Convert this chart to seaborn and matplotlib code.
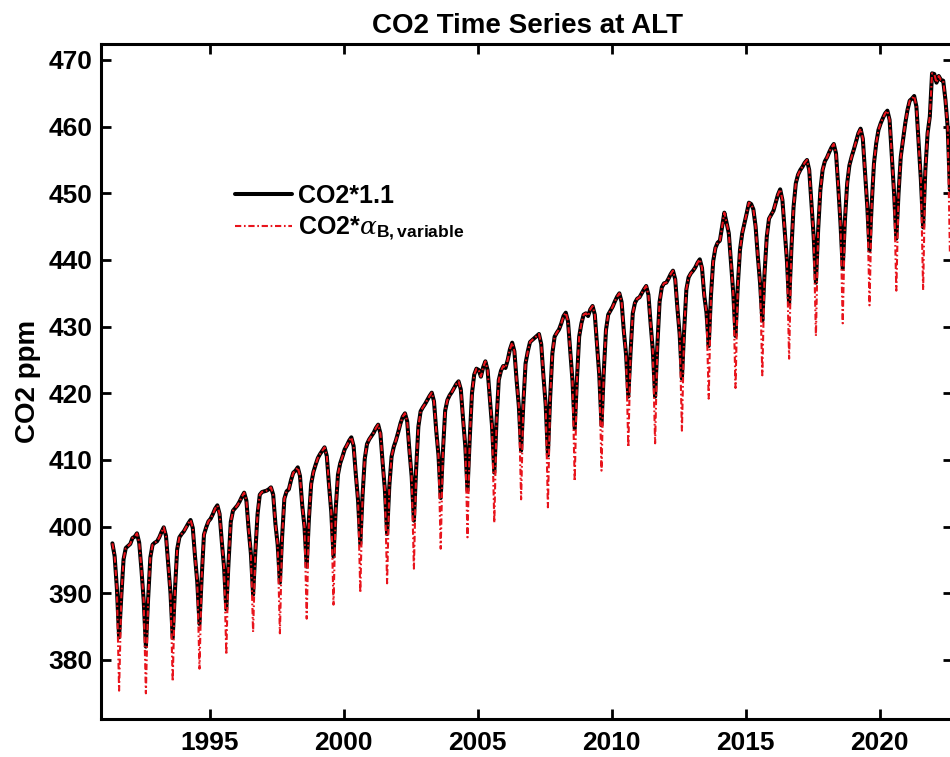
import numpy as np
import pandas as pd
import matplotlib
matplotlib.use("Agg")
import matplotlib.pyplot as plt
import seaborn as sns

# Monthly record, first value is May 1991
start_year = 1991
start_month = 5

# CO2*1.1 (ppm), monthly
co2_x11 = [
    397.5, 395.6, 390.8, 383.4, 389.6, 395.1, 396.8, 397.1,                      # 1991 May-Dec
    397.4, 398.3, 398.5, 399.0, 397.6, 393.6, 389.0, 382.0, 389.2, 395.4, 397.3, 397.6,  # 1992
    397.8, 398.4, 399.2, 399.9, 398.6, 394.4, 390.1, 383.3, 390.4, 396.6, 398.4, 398.9,  # 1993
    399.3, 399.9, 400.5, 401.0, 399.8, 395.5, 391.7, 385.4, 392.5, 398.8, 399.9, 400.8,  # 1994
    401.2, 401.9, 402.7, 403.2, 401.9, 397.7, 393.9, 387.6, 394.6, 400.7, 402.4, 402.8,  # 1995
    403.2, 403.8, 404.5, 405.1, 403.9, 399.6, 396.0, 389.8, 396.2, 401.9, 404.8, 405.2,  # 1996
    405.3, 405.4, 405.6, 405.9, 404.8, 400.4, 397.3, 391.6, 398.5, 404.2, 405.3, 405.6,  # 1997
    407.0, 408.1, 408.4, 408.9, 407.6, 403.2, 400.0, 394.0, 401.2, 406.4, 408.2, 409.3,  # 1998
    410.3, 410.9, 411.4, 411.9, 410.6, 406.2, 402.2, 395.5, 402.7, 407.8, 409.5, 410.5,  # 1999
    411.6, 412.2, 412.9, 413.4, 412.1, 407.8, 403.9, 397.4, 404.6, 410.2, 412.4, 413.1,  # 2000
    413.6, 414.1, 414.8, 415.3, 414.0, 409.6, 405.6, 398.9, 406.1, 410.5, 412.0, 413.0,  # 2001
    414.2, 415.5, 416.5, 417.0, 415.8, 411.4, 407.5, 400.9, 408.6, 415.0, 417.3, 417.9,  # 2002
    418.4, 419.0, 419.6, 420.1, 418.8, 414.4, 410.7, 404.3, 411.3, 417.4, 419.0, 419.7,  # 2003
    420.2, 420.8, 421.4, 421.8, 420.6, 416.2, 412.1, 405.4, 413.2, 420.0, 422.8, 423.7,  # 2004
    423.5, 422.5, 423.9, 424.8, 423.5, 419.2, 415.0, 408.1, 415.9, 422.0, 423.4, 424.1,  # 2005
    423.8, 425.0, 426.6, 427.6, 426.3, 421.9, 418.0, 411.4, 418.4, 424.5, 426.3, 427.7,  # 2006
    428.0, 428.3, 428.6, 428.9, 427.4, 422.6, 418.3, 410.7, 419.3, 426.0, 428.5, 429.1,  # 2007
    429.6, 430.5, 431.6, 432.1, 430.8, 426.3, 421.9, 414.7, 422.1, 428.5, 430.5, 431.8,  # 2008
    432.0, 431.6, 432.6, 433.1, 431.8, 427.3, 422.7, 415.2, 423.1, 429.5, 431.8, 432.4,  # 2009
    433.0, 433.8, 434.5, 435.0, 433.7, 429.3, 425.8, 419.5, 426.1, 432.0, 433.6, 434.2,  # 2010
    434.4, 435.0, 435.6, 436.1, 434.8, 430.4, 426.3, 419.5, 427.1, 433.7, 435.9, 436.5,  # 2011
    436.6, 437.2, 437.9, 438.4, 437.1, 432.7, 428.8, 422.2, 429.4, 435.6, 437.4, 438.0,  # 2012
    438.4, 438.9, 439.6, 440.1, 438.8, 434.7, 432.1, 427.1, 434.6, 439.8, 441.8, 442.6,  # 2013
    442.9, 445.0, 447.1, 445.6, 444.0, 439.5, 435.0, 428.6, 436.0, 441.5, 444.0, 445.5,  # 2014
    447.0, 448.6, 448.4, 447.6, 445.0, 440.5, 436.5, 430.9, 438.0, 443.5, 446.2, 446.8,  # 2015
    447.4, 448.6, 449.8, 450.6, 449.0, 444.5, 440.0, 433.4, 441.5, 448.0, 451.5, 452.8,  # 2016
    453.5, 454.0, 454.6, 455.0, 453.5, 448.5, 443.5, 436.6, 444.5, 450.5, 453.5, 454.8,  # 2017
    455.4, 456.2, 456.9, 457.4, 456.0, 451.0, 445.5, 438.7, 446.0, 451.5, 454.2, 455.5,  # 2018
    456.6, 457.8, 459.0, 459.7, 458.2, 453.0, 448.0, 441.4, 448.5, 454.5, 457.5, 459.5,  # 2019
    460.5, 461.3, 462.0, 462.4, 461.0, 455.5, 450.0, 443.2, 450.0, 455.5, 458.0, 460.5,  # 2020
    462.5, 463.9, 464.2, 464.6, 463.0, 457.5, 452.0, 444.9, 453.5, 459.0, 461.5, 468.0,  # 2021
    467.9, 466.6, 467.6, 467.0, 466.9, 464.0, 459.9, 450.5,                      # 2022 Jan-Aug
]

# CO2*alpha_B,variable departs from CO2*1.1 at the August minimum (ppm), 1991-2022
co2_alpha_aug = [
    375.4, 375.0, 376.8, 378.7, 380.8, 384.2, 384.0, 386.2, 388.3, 390.1,
    391.5, 393.7, 396.7, 398.4, 400.6, 404.1, 402.9, 406.8, 408.4, 411.9,
    412.5, 414.4, 419.2, 420.8, 422.7, 425.2, 428.6, 430.5, 433.2, 435.4,
    435.5, 441.0,
]

year_ticks = [1995, 2000, 2005, 2010, 2015, 2020]
ppm_ticks = [380, 390, 400, 410, 420, 430, 440, 450, 460, 470]

label_black = "CO2*1.1"
label_red = r"CO2*$\alpha_{\mathbf{B,variable}}$"

# ---- assemble the two series -------------------------------------------
n = len(co2_x11)
month_index = start_month - 1 + np.arange(n)
cal_year = start_year + month_index // 12
cal_month = month_index % 12 + 1
decimal_year = start_year + (month_index + 0.5) / 12.0

co2_alpha = np.array(co2_x11, dtype=float)
aug = cal_month == 8
co2_alpha[aug] = np.array(co2_alpha_aug)[cal_year[aug] - start_year]

df = pd.DataFrame({
    "year": decimal_year,
    "black": co2_x11,
    "red": co2_alpha,
})

# ---- styling -------------------------------------------------------------
sns.set_theme(style="ticks")
plt.rcParams["font.family"] = ["Liberation Sans", "DejaVu Sans"]
plt.rcParams["font.weight"] = "bold"
for key in ["text.color", "axes.labelcolor", "xtick.color", "ytick.color",
            "axes.edgecolor"]:
    plt.rcParams[key] = "black"
plt.rcParams["mathtext.fontset"] = "custom"
plt.rcParams["mathtext.rm"] = "Liberation Sans"
plt.rcParams["mathtext.bf"] = "Liberation Sans:bold"
plt.rcParams["mathtext.it"] = "DejaVu Serif:italic:weight=normal"

fig = plt.figure(figsize=(9.5, 7.57), dpi=100)
ax = fig.add_axes([101 / 950, 1 - 719 / 757, 852 / 950, 675 / 757])

sns.lineplot(data=df, x="year", y="black", ax=ax, color="black",
             linewidth=2.9, estimator=None, label=label_black)
sns.lineplot(data=df, x="year", y="red", ax=ax, color="#e8141c",
             linewidth=1.5, linestyle=(0, (3.0, 1.3, 0.8, 1.3)),
             estimator=None, label=label_red)

ax.set_xlim(1990.95, 2022.74)
ax.set_ylim(371.15, 472.4)
ax.set_xticks(year_ticks)
ax.set_yticks(ppm_ticks)

ax.tick_params(axis="both", which="major", direction="in", length=7,
               width=2, top=True, right=True, labelsize=19, pad=6,
               colors="black")
ax.tick_params(axis="x", pad=9)
for lab in ax.get_xticklabels() + ax.get_yticklabels():
    lab.set_fontweight("bold")
    lab.set_color("black")
for side in ["left", "right", "top", "bottom"]:
    ax.spines[side].set_linewidth(2.2)
    ax.spines[side].set_color("black")

ax.set_xlabel("")
ax.set_ylabel("CO2 ppm", fontsize=20, fontweight="bold", color="black")
ax.yaxis.set_label_coords(-0.071, 0.5)
ax.set_title("CO2 Time Series at ALT", fontsize=20, fontweight="bold",
             color="black", pad=8)

leg = ax.legend(loc="upper left", bbox_to_anchor=(0.145, 0.808), frameon=False,
                fontsize=18, handlelength=2.3, handletextpad=0.25,
                labelspacing=0.3, borderaxespad=0.0)
for t in leg.get_texts():
    t.set_fontweight("bold")
    t.set_color("black")

fig.savefig("out.png", dpi=100)
